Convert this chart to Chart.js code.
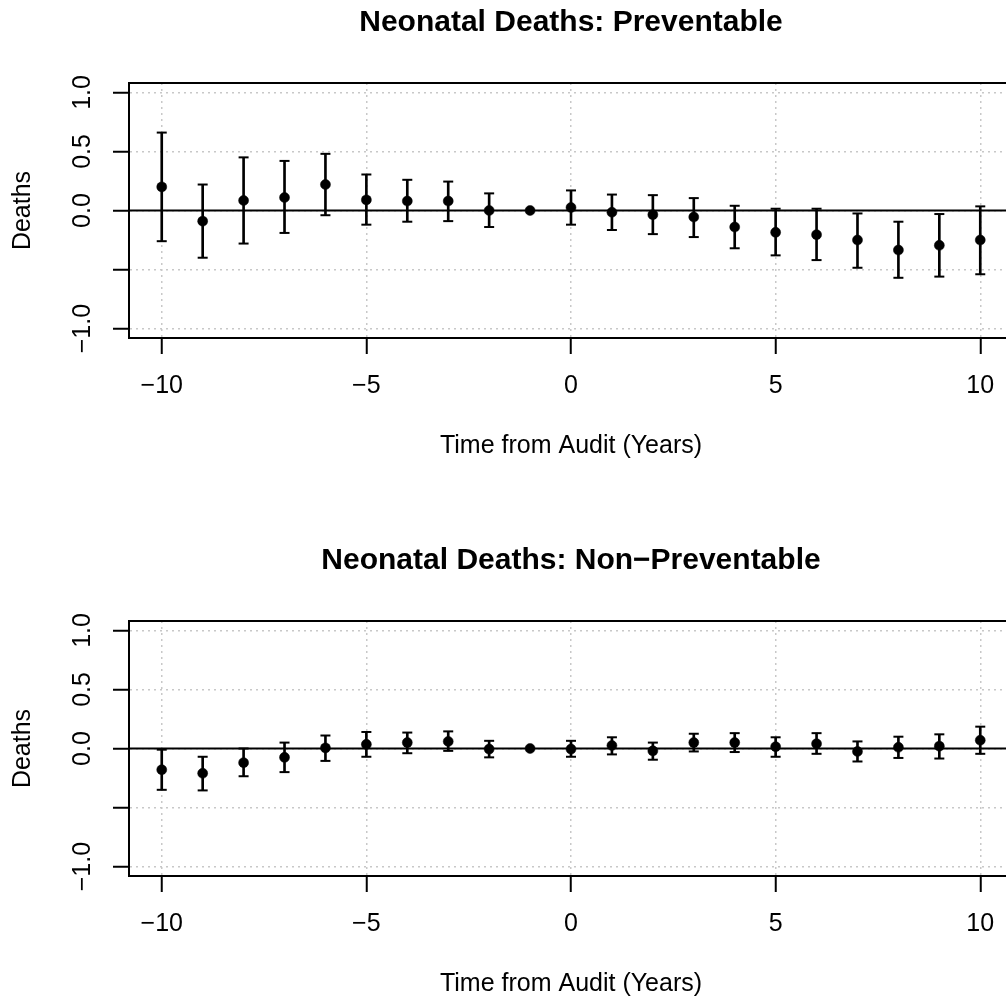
<!DOCTYPE html>
<html>
<head>
<meta charset="utf-8">
<script src="https://cdn.jsdelivr.net/npm/chart.js@4.4.1/dist/chart.umd.min.js"></script>
<style>
  html, body { margin: 0; padding: 0; background: #fff; overflow: hidden; }
  canvas { position: absolute; left: 0; }
  #top { top: 0; }
  #bottom { top: 538px; }
</style>
</head>
<body>
<canvas id="top" width="1020" height="500"></canvas>
<canvas id="bottom" width="1020" height="500"></canvas>
<script>
// years relative to the audit
const years = [-10, -9, -8, -7, -6, -5, -4, -3, -2, -1, 0, 1, 2, 3, 4, 5, 6, 7, 8, 9, 10];

// preventable deaths: estimate and 95% interval (year -1 is the reference)
const prevEst = [0.20, -0.09, 0.085, 0.11, 0.22, 0.09, 0.08, 0.08, 0.0, 0, 0.025, -0.015, -0.035, -0.055, -0.14, -0.185, -0.205, -0.25, -0.335, -0.295, -0.25];
const prevLo = [-0.26, -0.40, -0.28, -0.19, -0.04, -0.12, -0.095, -0.09, -0.14, null, -0.12, -0.165, -0.20, -0.225, -0.32, -0.38, -0.42, -0.485, -0.57, -0.56, -0.54];
const prevHi = [0.66, 0.22, 0.45, 0.42, 0.48, 0.305, 0.26, 0.245, 0.145, null, 0.17, 0.135, 0.13, 0.105, 0.04, 0.015, 0.015, -0.025, -0.095, -0.03, 0.035];

// non-preventable deaths
const nonEst = [-0.18, -0.21, -0.12, -0.075, 0.005, 0.035, 0.05, 0.06, -0.005, 0, -0.005, 0.025, -0.02, 0.05, 0.05, 0.015, 0.04, -0.025, 0.01, 0.02, 0.07];
const nonLo = [-0.35, -0.355, -0.235, -0.20, -0.105, -0.07, -0.04, -0.02, -0.075, null, -0.07, -0.05, -0.095, -0.025, -0.03, -0.07, -0.045, -0.11, -0.08, -0.085, -0.045];
const nonHi = [-0.01, -0.07, 0.0, 0.05, 0.11, 0.14, 0.135, 0.145, 0.065, null, 0.065, 0.095, 0.05, 0.125, 0.13, 0.095, 0.13, 0.06, 0.10, 0.12, 0.185];

const xTicks = [-10, -5, 0, 5, 10];
const xTickLabels = ['\u221210', '\u22125', '0', '5', '10'];
const yTicks = [-1, -0.5, 0, 0.5, 1];
const yTickLabels = ['\u22121.0', '', '0.0', '0.5', '1.0'];
const xRange = [-10.8, 10.8];
const yRange = [-1.08, 1.08];

Chart.defaults.font.family = '"Liberation Sans", Arial, sans-serif';
Chart.defaults.color = '#000';

const gridOpts = {
    color: '#c8c8c8', lineWidth: 1.5, offset: false,
    tickLength: 16, tickColor: '#000', tickWidth: 2, tickBorderDash: []
};
const borderOpts = { display: true, color: '#000', width: 2, dash: [2, 4] };

function makeChart(id, title, est, lo, hi) {
    const pts = years.map((x, i) => ({ x: x, y: est[i] }));
    const bars = years.map((x, i) => ({ x: x, y: lo[i] === null ? null : [lo[i], hi[i]] }));
    const lowCaps = years.map((x, i) => ({ x: x, y: lo[i] }));
    const highCaps = years.map((x, i) => ({ x: x, y: hi[i] }));

    return new Chart(document.getElementById(id), {
        type: 'scatter',
        data: {
            datasets: [
                { data: pts, pointRadius: 5, pointBorderWidth: 0.5, pointBackgroundColor: '#000', pointBorderColor: '#000' },
                { data: highCaps, pointStyle: 'line', pointRadius: 5, pointBorderWidth: 2, pointBorderColor: '#000' },
                { data: lowCaps, pointStyle: 'line', pointRadius: 5, pointBorderWidth: 2, pointBorderColor: '#000' },
                { type: 'bar', data: bars, barThickness: 2, backgroundColor: '#000', borderWidth: 0 },
                // abline(h = 0)
                { type: 'line', data: [{ x: xRange[0], y: 0 }, { x: xRange[1], y: 0 }],
                  borderColor: '#000', borderWidth: 2, pointRadius: 0 }
            ]
        },
        options: {
            responsive: false,
            animation: false,
            events: [],
            layout: { padding: 0 },
            plugins: {
                legend: { display: false },
                tooltip: { enabled: false },
                title: {
                    display: true, text: title, fullSize: false, color: '#000',
                    font: { size: 30, weight: 'bold', lineHeight: 1.2 },
                    padding: { top: 5, bottom: 42 }
                }
            },
            scales: {
                x: {
                    type: 'linear', position: 'bottom', min: xRange[0], max: xRange[1], offset: false,
                    afterBuildTicks: s => { s.ticks = xTicks.map(v => ({ value: v })); },
                    afterFit: s => { s.height = 162; },
                    grid: gridOpts,
                    border: borderOpts,
                    ticks: {
                        font: { size: 25 }, padding: 17, maxRotation: 0, autoSkip: false,
                        callback: (v, i) => xTickLabels[i]
                    },
                    title: {
                        display: true, text: 'Time from Audit (Years)',
                        font: { size: 25, lineHeight: 1.2 }, padding: { top: 0, bottom: 39 }
                    }
                },
                y: {
                    type: 'linear', position: 'left', min: yRange[0], max: yRange[1], offset: false,
                    afterBuildTicks: s => { s.ticks = yTicks.map(v => ({ value: v })); },
                    afterFit: s => { s.width = 129; },
                    grid: gridOpts,
                    border: borderOpts,
                    ticks: {
                        font: { size: 25 }, padding: 5, minRotation: 90, maxRotation: 90,
                        crossAlign: 'center', autoSkip: false,
                        callback: (v, i) => yTickLabels[i]
                    },
                    title: {
                        display: true, text: 'Deaths',
                        font: { size: 25, lineHeight: 1.2 }, padding: { top: 8, bottom: 0 }
                    }
                },
                // top and right sides of the box
                xTop: {
                    type: 'linear', position: 'top', min: xRange[0], max: xRange[1], offset: false,
                    afterFit: s => { s.height = 0; },
                    grid: { lineWidth: 0, drawTicks: false },
                    ticks: { display: false },
                    border: { display: true, color: '#000', width: 2 }
                },
                yRight: {
                    type: 'linear', position: 'right', min: yRange[0], max: yRange[1],
                    afterFit: s => { s.width = 6; },
                    grid: { lineWidth: 0, drawTicks: false },
                    ticks: { display: false },
                    border: { display: true, color: '#000', width: 2 }
                }
            }
        }
    });
}

makeChart('top', 'Neonatal Deaths: Preventable', prevEst, prevLo, prevHi);
makeChart('bottom', 'Neonatal Deaths: Non\u2212Preventable', nonEst, nonLo, nonHi);
</script>
</body>
</html>
